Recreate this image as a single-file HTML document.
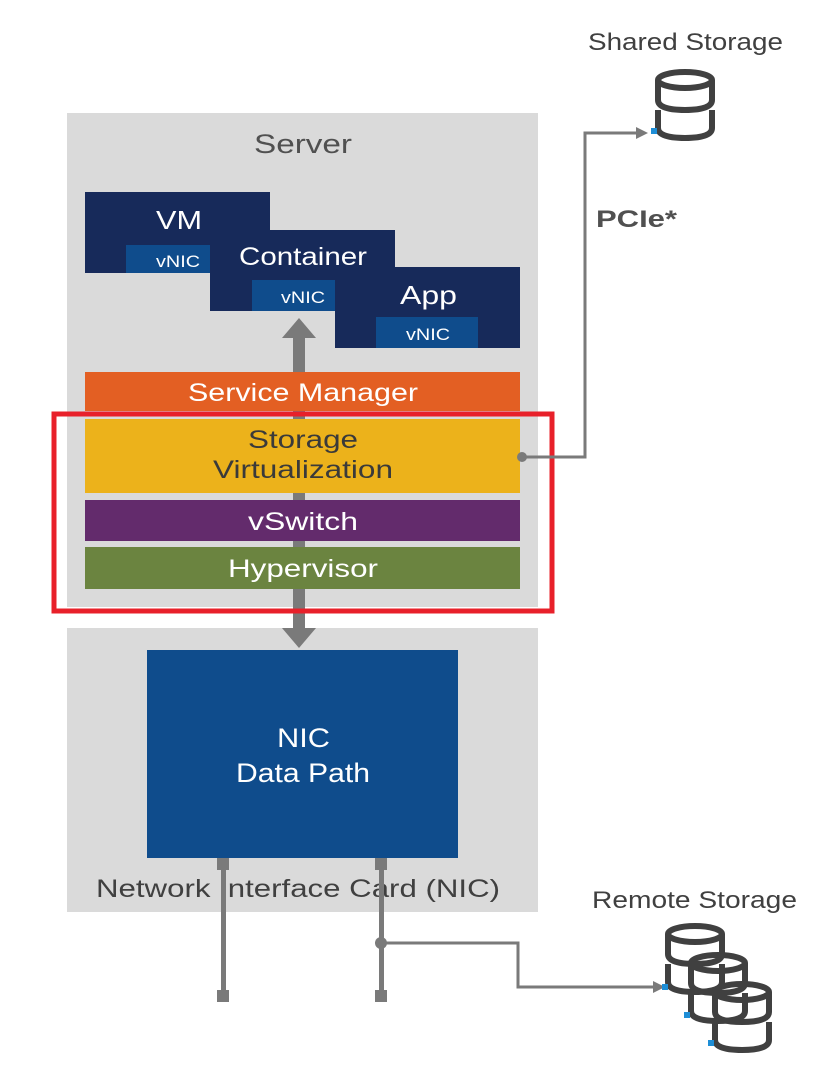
<!DOCTYPE html>
<html><head><meta charset="utf-8"><style>
html,body{margin:0;padding:0;background:#fff;}
svg{display:block;}
text{font-family:"Liberation Sans",sans-serif;}
</style></head><body>
<svg width="827" height="1080" viewBox="0 0 827 1080" xmlns="http://www.w3.org/2000/svg">
<defs>
<g id="cyl" fill="none" stroke="#404040" stroke-width="6">
  <ellipse cx="30" cy="10" rx="27" ry="8"/>
  <path d="M3 10 V30 Q3 40 30 40 Q57 40 57 30 V10"/>
  <path d="M3 40 V58 Q3 68 30 68 Q57 68 57 58 V40"/>
</g>
</defs>
<rect x="67" y="113" width="471" height="494" fill="#dadada"/>
<text x="254" y="153" font-size="27" fill="#505050" textLength="98" lengthAdjust="spacingAndGlyphs">Server</text>
<rect x="67" y="628" width="471" height="284" fill="#dadada"/>
<rect x="293" y="330" width="12" height="300" fill="#7a7a7a"/>
<polygon points="282,338 299,318 316,338" fill="#7a7a7a"/>
<polygon points="282,628 316,628 299,648" fill="#7a7a7a"/>
<rect x="85" y="192" width="185" height="81" fill="#172a5a"/>
<rect x="126" y="245" width="84" height="28" fill="#0f4c8c"/>
<text x="156" y="229" font-size="26" fill="#fff" textLength="46" lengthAdjust="spacingAndGlyphs">VM</text>
<text x="156" y="267" font-size="17" fill="#fff" textLength="44" lengthAdjust="spacingAndGlyphs">vNIC</text>
<rect x="210" y="230" width="185" height="81" fill="#172a5a"/>
<rect x="252" y="280" width="84" height="31" fill="#0f4c8c"/>
<text x="239" y="265" font-size="25" fill="#fff" textLength="128" lengthAdjust="spacingAndGlyphs">Container</text>
<text x="281" y="303" font-size="17" fill="#fff" textLength="44" lengthAdjust="spacingAndGlyphs">vNIC</text>
<rect x="335" y="267" width="185" height="81" fill="#172a5a"/>
<rect x="376" y="317" width="102" height="31" fill="#0f4c8c"/>
<text x="400" y="304" font-size="26" fill="#fff" textLength="57" lengthAdjust="spacingAndGlyphs">App</text>
<text x="406" y="340" font-size="17" fill="#fff" textLength="44" lengthAdjust="spacingAndGlyphs">vNIC</text>
<rect x="85" y="372" width="435" height="39" fill="#e35f23"/>
<text x="188" y="401" font-size="25" fill="#fff" textLength="230" lengthAdjust="spacingAndGlyphs">Service Manager</text>
<rect x="85" y="419" width="435" height="74" fill="#ecb21b"/>
<text x="248" y="448" font-size="25" fill="#3a3a3a" textLength="110" lengthAdjust="spacingAndGlyphs">Storage</text>
<text x="213" y="478" font-size="25" fill="#3a3a3a" textLength="180" lengthAdjust="spacingAndGlyphs">Virtualization</text>
<rect x="85" y="500" width="435" height="41" fill="#632b6c"/>
<text x="248" y="530" font-size="25" fill="#fff" textLength="110" lengthAdjust="spacingAndGlyphs">vSwitch</text>
<rect x="85" y="547" width="435" height="42" fill="#6b8440"/>
<text x="228" y="577" font-size="25" fill="#fff" textLength="150" lengthAdjust="spacingAndGlyphs">Hypervisor</text>
<rect x="54" y="414" width="498" height="197" fill="none" stroke="#e8202a" stroke-width="5"/>
<circle cx="522" cy="457" r="5" fill="#7a7a7a"/>
<polyline points="522,457 585,457 585,133 640,133" fill="none" stroke="#7a7a7a" stroke-width="3"/>
<polygon points="636,127 648,133 636,139" fill="#7a7a7a"/>
<text x="596" y="227" font-size="24" font-weight="bold" fill="#505050" textLength="81" lengthAdjust="spacingAndGlyphs">PCIe*</text>
<text x="588" y="50" font-size="24" fill="#404040" textLength="195" lengthAdjust="spacingAndGlyphs">Shared Storage</text>
<use href="#cyl" x="655" y="70"/>
<rect x="651" y="128" width="6" height="6" fill="#1e8ed6"/>
<rect x="147" y="650" width="311" height="208" fill="#0f4c8c"/>
<text x="277" y="747" font-size="27" fill="#fff" textLength="53" lengthAdjust="spacingAndGlyphs">NIC</text>
<text x="236" y="782" font-size="27" fill="#fff" textLength="134" lengthAdjust="spacingAndGlyphs">Data Path</text>
<text x="96" y="897" font-size="25" fill="#404040" textLength="404" lengthAdjust="spacingAndGlyphs">Network Interface Card (NIC)</text>
<g fill="#7a7a7a">
<rect x="221" y="858" width="5" height="138"/>
<rect x="217" y="858" width="12" height="12"/>
<rect x="217" y="990" width="12" height="12"/>
<rect x="379" y="858" width="5" height="138"/>
<rect x="375" y="858" width="12" height="12"/>
<rect x="375" y="990" width="12" height="12"/>
<circle cx="381" cy="943" r="6"/>
<polygon points="653,981 665,987 653,993"/>
</g>
<polyline points="381,943 518,943 518,987 655,987" fill="none" stroke="#7a7a7a" stroke-width="3"/>
<text x="592" y="908" font-size="24" fill="#404040" textLength="205" lengthAdjust="spacingAndGlyphs">Remote Storage</text>
<use href="#cyl" x="665" y="924"/>
<rect x="662" y="984" width="6" height="6" fill="#1e8ed6"/>
<use href="#cyl" x="688" y="953"/>
<rect x="684" y="1012" width="6" height="6" fill="#1e8ed6"/>
<use href="#cyl" x="712" y="982"/>
<rect x="708" y="1040" width="6" height="6" fill="#1e8ed6"/>
</svg>
</body></html>
